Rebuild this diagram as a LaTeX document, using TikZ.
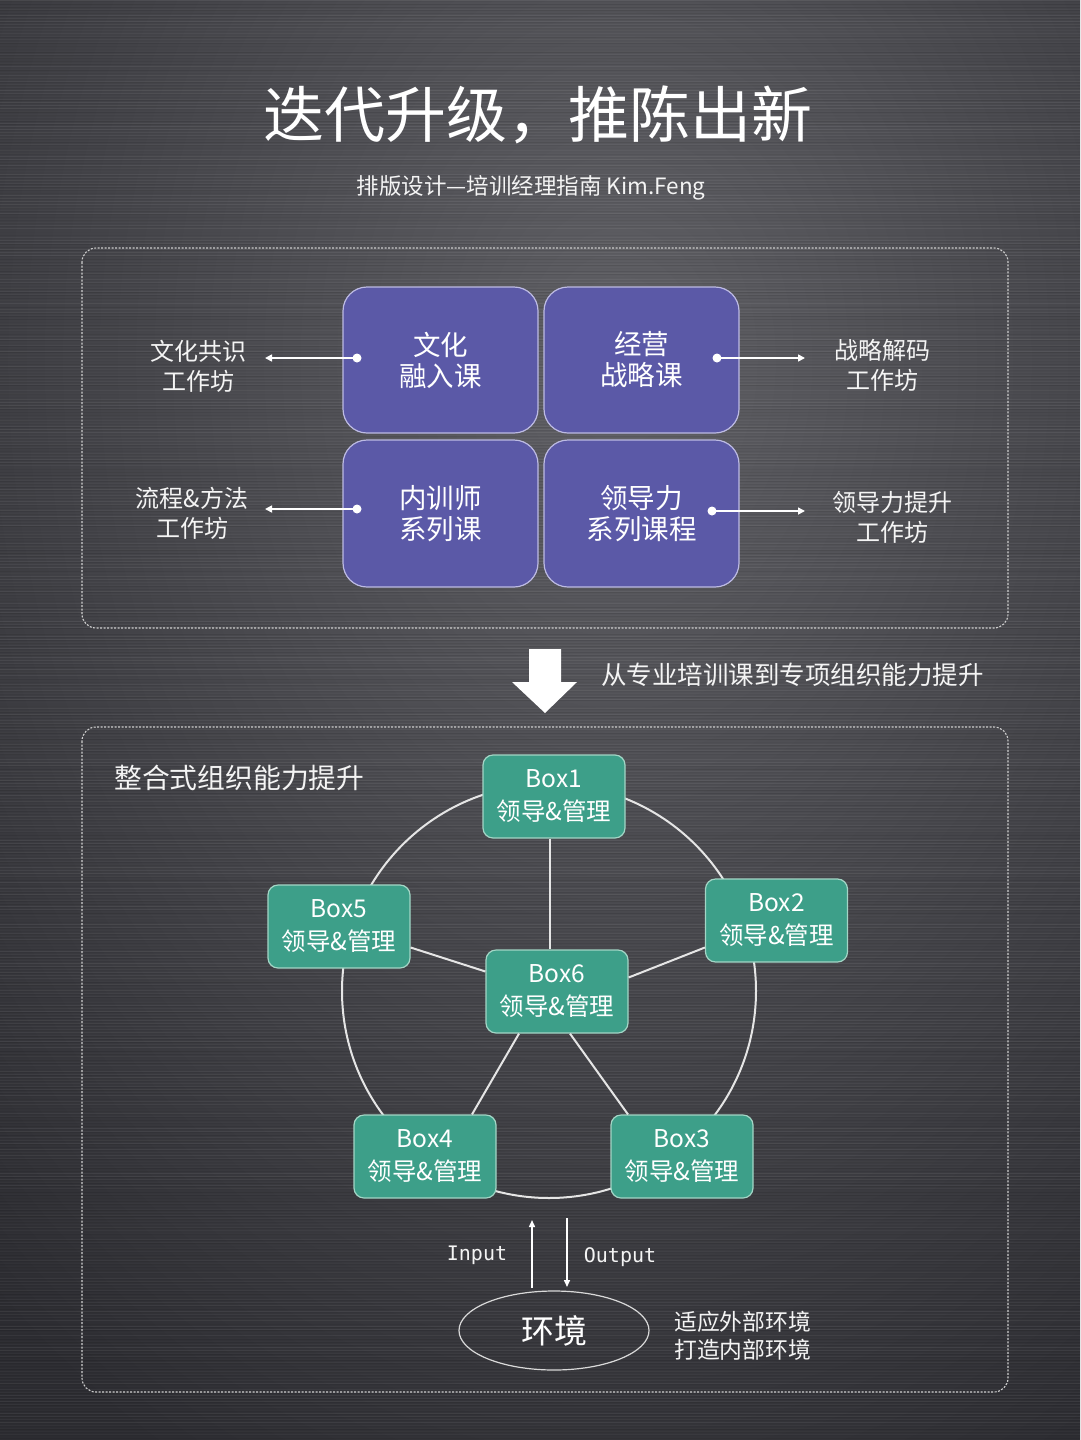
\documentclass[tikz,border=0pt]{standalone}
\usepackage{fontspec}
\setmainfont{Noto Sans CJK SC}
\newfontfamily\monofont{DejaVu Sans Mono}
\usetikzlibrary{arrows.meta,shapes.geometric,calc}
\definecolor{bgdark}{HTML}{2C2C31}
\definecolor{bglight}{HTML}{606065}
\definecolor{purp}{HTML}{5B59A7}
\definecolor{pborder}{HTML}{BDBBE3}
\definecolor{grn}{HTML}{3D9F89}
\definecolor{gborder}{HTML}{A3D6C6}
\definecolor{dashc}{HTML}{CFCFCF}
\definecolor{txt}{HTML}{F4F4F4}
\tikzset{
  purplebox/.style={draw=pborder, fill=purp, line width=1.2pt, rounded corners=24pt,
    minimum width=195pt, minimum height=146pt, align=center, text=white, inner sep=0pt,
    font=\fontsize{27.5}{31}\selectfont},
  greenbox/.style={draw=gborder, fill=grn, line width=1.2pt, rounded corners=10pt,
    minimum width=142pt, minimum height=83pt, align=center, text=white, inner sep=0pt,
    font=\fontsize{24.5}{33}\selectfont},
  sidelabel/.style={text=txt, align=center, inner sep=0pt, font=\fontsize{24}{30}\selectfont},
  conn/.style={draw=white!90!black, line width=2pt},
  sidearrow/.style={draw=white, line width=1.6pt, -{Triangle[length=7pt,width=7pt]}},
  dotmark/.style={fill=white, circle, inner sep=0pt, minimum size=9pt},
  dashbox/.style={draw=dashc, line width=1.1pt, dash pattern=on 2pt off 1.5pt, rounded corners=14pt},
  ioarrow/.style={draw=white, line width=1.5pt, -{Triangle[length=7pt,width=6pt]}},
}
\begin{document}
\begin{tikzpicture}[x=1pt,y=-1pt]
\useasboundingbox (0,0) rectangle (1080,1440);
% background
\fill[bgdark] (0,0) rectangle (1080,1440);
\begin{scope}
  \clip (0,0) rectangle (1080,1440);
  \shade[inner color=bglight, outer color=bgdark] (620,360) ellipse (950pt and 1250pt);
  \pgfmathsetseed{7}
  \foreach \yy in {0,3,...,1440} {
    \pgfmathsetmacro\op{rnd*0.07}
    \draw[white, opacity=\op, line width=1pt] (0,\yy) -- (1080,\yy);
  }
  \foreach \yy in {1.5,4.5,...,1440} {
    \pgfmathsetmacro\op{rnd*0.10}
    \draw[black, opacity=\op, line width=1pt] (0,\yy) -- (1080,\yy);
  }
\end{scope}

% title
\node[text=white, font=\fontsize{61}{61}\selectfont] (title) at (538,115) {迭代升级，推陈出新};
\node[text=txt, font=\fontsize{22.5}{22.5}\selectfont] (subtitle) at (531,188) {排版设计—培训经理指南 Kim.Feng};

% top panel
\draw[dashbox] (82,248) rectangle (1008,628);
\node[purplebox] (p1) at (440.5,360) {文化\\融入课};
\node[purplebox] (p2) at (641.5,360) {经营\\战略课};
\node[purplebox, minimum height=147pt] (p3) at (440.5,513.5) {内训师\\系列课};
\node[purplebox, minimum height=147pt] (p4) at (641.5,513.5) {领导力\\系列课程};

\node[sidelabel] (l1) at (198,366) {文化共识\\工作坊};
\node[sidelabel] (l2) at (192,513) {流程\&方法\\工作坊};
\node[sidelabel] (l3) at (882,365) {战略解码\\工作坊};
\node[sidelabel] (l4) at (892,517) {领导力提升\\工作坊};

\node[dotmark] (d1) at (357,358) {};
\node[dotmark] (d2) at (717,358) {};
\node[dotmark] (d3) at (357,509) {};
\node[dotmark] (d4) at (712,511) {};
\coordinate (t1) at (265,358);
\coordinate (t2) at (805,358);
\coordinate (t3) at (265,509);
\coordinate (t4) at (805,511);
\draw[sidearrow] (d1.center) -- (t1);
\draw[sidearrow] (d2.center) -- (t2);
\draw[sidearrow] (d3.center) -- (t3);
\draw[sidearrow] (d4.center) -- (t4);

% big down arrow
\fill[white] (529,649) -- (561,649) -- (561,682) -- (577,682) -- (545,713) -- (512,682) -- (529,682) -- cycle;
\node[anchor=west, text=txt, inner sep=0pt, font=\fontsize{25.5}{25.5}\selectfont] (cap) at (601,675) {从专业培训课到专项组织能力提升};

% bottom panel
\draw[dashbox] (82,727) rectangle (1008,1392);
\node[anchor=west, text=txt, inner sep=0pt, font=\fontsize{27.8}{27.8}\selectfont] (head) at (114,778) {整合式组织能力提升};

\draw[conn] (549,991) circle (207pt);

\node[greenbox] (b1) at (554,796.5) {Box1\\领导\&管理};
\node[greenbox] (b2) at (776.5,920.5) {Box2\\领导\&管理};
\node[greenbox] (b3) at (682,1156.5) {Box3\\领导\&管理};
\node[greenbox] (b4) at (425,1156.5) {Box4\\领导\&管理};
\node[greenbox] (b5) at (339,926.5) {Box5\\领导\&管理};
\node[greenbox] (b6) at (557,991.5) {Box6\\领导\&管理};

\draw[conn] ($(b1.south)+(-4,0)$) -- ($(b6.north)+(-7,0)$);
\draw[conn] ($(b5.east)+(0,21)$) -- ($(b6.west)+(0,-20)$);
\draw[conn] ($(b2.west)+(0,27)$) -- ($(b6.east)+(0,-14)$);
\draw[conn] ($(b6.south)+(-38,0)$) -- ($(b4.north)+(47,0)$);
\draw[conn] ($(b6.south)+(13,0)$) -- ($(b3.north)+(-54,0)$);

% environment
\node[ellipse, draw=white!85!black, line width=1.2pt, minimum width=190pt, minimum height=79pt,
  text=white, font=\fontsize{33}{33}\selectfont] (env) at (554,1330.5) {环境};
\coordinate (inA) at (532,1288);
\coordinate (inB) at (532,1220);
\coordinate (outA) at (567,1218);
\coordinate (outB) at (567,1287);
\draw[ioarrow] (inA) -- (inB);
\draw[ioarrow] (outA) -- (outB);
\node[text=txt, inner sep=0pt, font=\monofont\fontsize{20}{20}\selectfont] (inp) at (477,1255) {Input};
\node[text=txt, inner sep=0pt, font=\monofont\fontsize{20}{20}\selectfont] (outp) at (620,1257) {Output};
\node[anchor=west, align=left, text=txt, inner sep=0pt, font=\fontsize{22.8}{28}\selectfont] (envtxt) at (674,1336) {适应外部环境\\打造内部环境};
\end{tikzpicture}
\end{document}
